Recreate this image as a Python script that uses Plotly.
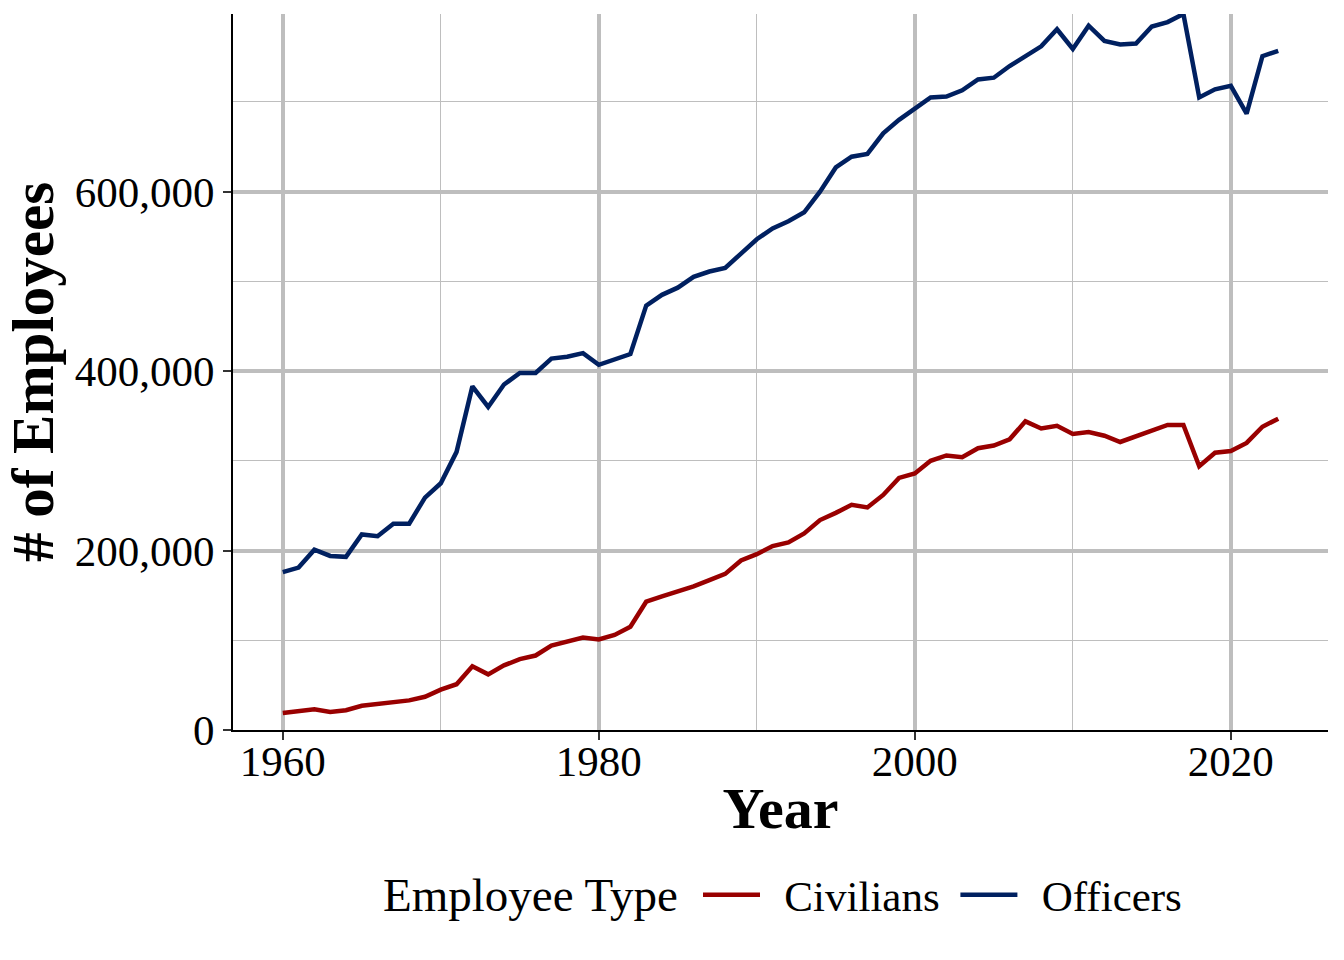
import plotly.graph_objects as go

years = list(range(1960, 2024))

officers = [176000, 181000, 201000, 194000, 193000, 218000, 216000, 230000, 230000, 259000,
            275000, 310000, 383000, 360000, 385000, 398000, 398000, 414000, 416000, 420000,
            407000, 413000, 419000, 473000, 485000, 493000, 505000, 511000, 515000, 531000,
            547000, 559000, 567000, 577000, 600000, 627000, 639000, 642000, 665000, 680000,
            692000, 705000, 706000, 713000, 725000, 727000, 740000, 751000, 762000, 781000,
            759000, 785000, 768000, 764000, 765000, 784000, 789000, 798000, 705000, 714000,
            718000, 687000, 751000, 757000]

civilians = [19000, 21000, 23000, 20000, 22000, 27000, 29000, 32000, 33000, 37000,
             45000, 51000, 71000, 62000, 72000, 79000, 83000, 94000, 98000, 103000,
             101000, 106000, 115000, 143000, 149000, 154000, 160000, 167000, 174000, 189000,
             196000, 205000, 209000, 219000, 234000, 242000, 251000, 248000, 262000, 281000,
             286000, 300000, 306000, 304000, 314000, 317000, 324000, 344000, 336000, 339000,
             330000, 332000, 328000, 321000, 327000, 333000, 340000, 340000, 294000, 309000,
             311000, 320000, 338000, 347000]

series_names = ["Civilians", "Officers"]
series_colors = ["#990000", "#002060"]
legend_title = "Employee Type"

FONT = "Liberation Serif"
LEAD = "\u00a0\u2009"
TRAIL = "\u00a0"

fig = go.Figure()
for name, vals, col in zip(series_names, [civilians, officers], series_colors):
    fig.add_trace(go.Scatter(x=years, y=vals, mode="lines", name=LEAD + name + TRAIL,
                             line=dict(color=col, width=4.5)))

fig.update_layout(
    width=1344, height=960,
    margin=dict(l=233, r=16, t=14, b=230, autoexpand=False),
    paper_bgcolor="white", plot_bgcolor="white",
    font=dict(family=FONT, color="black", size=43),
    showlegend=True,
    legend=dict(orientation="h", x=(698 - 233) / 1095, xanchor="left", y=-0.23, yanchor="middle",
                font=dict(size=43, family=FONT), itemwidth=57,
                bgcolor="rgba(0,0,0,0)"),
    annotations=[dict(text=legend_title, xref="paper", yref="paper",
                      x=(680 - 233) / 1095, y=-0.23, xanchor="right", yanchor="middle",
                      showarrow=False, font=dict(size=47, family=FONT, color="black"))],
)

fig.update_xaxes(
    range=[1956.85, 2026.15], dtick=20, tick0=1960,
    showgrid=True, gridcolor="#BEBEBE", gridwidth=4,
    minor=dict(dtick=10, tick0=1960, showgrid=True, gridcolor="#BEBEBE", gridwidth=1),
    showline=True, linecolor="black", linewidth=2,
    ticks="outside", ticklen=8, tickwidth=2, tickcolor="#333333",
    ticklabelstandoff=-16,
    tickfont=dict(size=43, family=FONT, color="black"),
    title=dict(text="<b>Year</b>", font=dict(size=58, family=FONT), standoff=4),
    zeroline=False,
)
fig.update_yaxes(
    range=[0, max(officers)], dtick=200000, tick0=0, tickformat=",",
    showgrid=True, gridcolor="#BEBEBE", gridwidth=4,
    minor=dict(dtick=100000, tick0=0, showgrid=True, gridcolor="#BEBEBE", gridwidth=1),
    showline=True, linecolor="black", linewidth=2,
    ticks="outside", ticklen=8, tickwidth=2, tickcolor="#333333",
    tickfont=dict(size=43, family=FONT, color="black"),
    title=dict(text="<b># of Employees</b>", font=dict(size=59, family=FONT), standoff=18),
    zeroline=False,
)

fig.write_html("out.html")
